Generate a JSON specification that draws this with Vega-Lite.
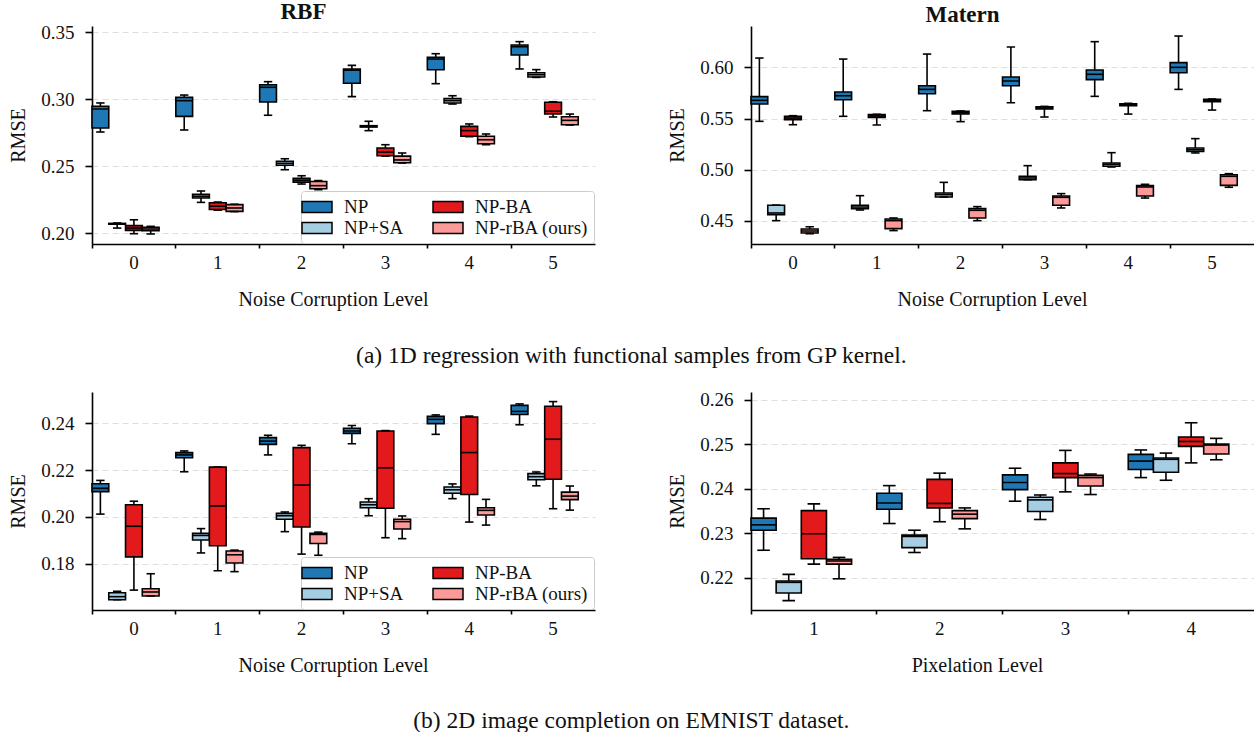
{
  "$schema": "https://vega.github.io/schema/vega-lite/v6.json",
  "padding": {"left": 8, "top": 0, "right": 0, "bottom": 0},
  "datasets": {
    "box": [
      {"p":"RBF","l":0,"m":"NP","lo":0.2755,"q1":0.2785,"md":0.2927,"q3":0.2947,"hi":0.2972},
      {"p":"RBF","l":0,"m":"NP+SA","lo":0.2037,"q1":0.2066,"md":0.2069,"q3":0.2072,"hi":0.2075},
      {"p":"RBF","l":0,"m":"NP-BA","lo":0.1995,"q1":0.2020,"md":0.2037,"q3":0.2055,"hi":0.2099},
      {"p":"RBF","l":0,"m":"NP-rBA (ours)","lo":0.1993,"q1":0.2017,"md":0.2030,"q3":0.2043,"hi":0.2050},
      {"p":"RBF","l":1,"m":"NP","lo":0.2770,"q1":0.2872,"md":0.2989,"q3":0.3014,"hi":0.3031},
      {"p":"RBF","l":1,"m":"NP+SA","lo":0.2229,"q1":0.2262,"md":0.2274,"q3":0.2289,"hi":0.2314},
      {"p":"RBF","l":1,"m":"NP-BA","lo":0.2170,"q1":0.2176,"md":0.2200,"q3":0.2226,"hi":0.2232},
      {"p":"RBF","l":1,"m":"NP-rBA (ours)","lo":0.2160,"q1":0.2162,"md":0.2187,"q3":0.2212,"hi":0.2215},
      {"p":"RBF","l":2,"m":"NP","lo":0.2880,"q1":0.2979,"md":0.3089,"q3":0.3108,"hi":0.3131},
      {"p":"RBF","l":2,"m":"NP+SA","lo":0.2473,"q1":0.2506,"md":0.2521,"q3":0.2536,"hi":0.2555},
      {"p":"RBF","l":2,"m":"NP-BA","lo":0.2366,"q1":0.2379,"md":0.2394,"q3":0.2409,"hi":0.2428},
      {"p":"RBF","l":2,"m":"NP-rBA (ours)","lo":0.2324,"q1":0.2331,"md":0.2354,"q3":0.2385,"hi":0.2392},
      {"p":"RBF","l":3,"m":"NP","lo":0.3019,"q1":0.3119,"md":0.3216,"q3":0.3226,"hi":0.3253},
      {"p":"RBF","l":3,"m":"NP+SA","lo":0.2765,"q1":0.2792,"md":0.2797,"q3":0.2802,"hi":0.2835},
      {"p":"RBF","l":3,"m":"NP-BA","lo":0.2575,"q1":0.2578,"md":0.2605,"q3":0.2635,"hi":0.2660},
      {"p":"RBF","l":3,"m":"NP-rBA (ours)","lo":0.2523,"q1":0.2525,"md":0.2546,"q3":0.2575,"hi":0.2598},
      {"p":"RBF","l":4,"m":"NP","lo":0.3116,"q1":0.3220,"md":0.3300,"q3":0.3313,"hi":0.3340},
      {"p":"RBF","l":4,"m":"NP+SA","lo":0.2964,"q1":0.2972,"md":0.2989,"q3":0.3004,"hi":0.3026},
      {"p":"RBF","l":4,"m":"NP-BA","lo":0.2720,"q1":0.2723,"md":0.2765,"q3":0.2797,"hi":0.2815},
      {"p":"RBF","l":4,"m":"NP-rBA (ours)","lo":0.2660,"q1":0.2667,"md":0.2697,"q3":0.2723,"hi":0.2740},
      {"p":"RBF","l":5,"m":"NP","lo":0.3226,"q1":0.3330,"md":0.3392,"q3":0.3405,"hi":0.3430},
      {"p":"RBF","l":5,"m":"NP+SA","lo":0.3163,"q1":0.3166,"md":0.3183,"q3":0.3198,"hi":0.3221},
      {"p":"RBF","l":5,"m":"NP-BA","lo":0.2867,"q1":0.2889,"md":0.2910,"q3":0.2977,"hi":0.2981},
      {"p":"RBF","l":5,"m":"NP-rBA (ours)","lo":0.2807,"q1":0.2809,"md":0.2842,"q3":0.2869,"hi":0.2889},

      {"p":"Matern","l":0,"m":"NP","lo":0.5473,"q1":0.5642,"md":0.5678,"q3":0.5714,"hi":0.6091},
      {"p":"Matern","l":0,"m":"NP+SA","lo":0.4503,"q1":0.4562,"md":0.4578,"q3":0.4653,"hi":0.4655},
      {"p":"Matern","l":0,"m":"NP-BA","lo":0.5440,"q1":0.5489,"md":0.5505,"q3":0.5522,"hi":0.5528},
      {"p":"Matern","l":0,"m":"NP-rBA (ours)","lo":0.4376,"q1":0.4383,"md":0.4402,"q3":0.4422,"hi":0.4444},
      {"p":"Matern","l":1,"m":"NP","lo":0.5522,"q1":0.5684,"md":0.5723,"q3":0.5759,"hi":0.6081},
      {"p":"Matern","l":1,"m":"NP+SA","lo":0.4607,"q1":0.4620,"md":0.4636,"q3":0.4653,"hi":0.4747},
      {"p":"Matern","l":1,"m":"NP-BA","lo":0.5437,"q1":0.5512,"md":0.5525,"q3":0.5538,"hi":0.5541},
      {"p":"Matern","l":1,"m":"NP-rBA (ours)","lo":0.4406,"q1":0.4425,"md":0.4503,"q3":0.4519,"hi":0.4529},
      {"p":"Matern","l":2,"m":"NP","lo":0.5577,"q1":0.5743,"md":0.5785,"q3":0.5821,"hi":0.6130},
      {"p":"Matern","l":2,"m":"NP+SA","lo":0.4734,"q1":0.4734,"md":0.4757,"q3":0.4773,"hi":0.4877},
      {"p":"Matern","l":2,"m":"NP-BA","lo":0.5470,"q1":0.5544,"md":0.5557,"q3":0.5571,"hi":0.5574},
      {"p":"Matern","l":2,"m":"NP-rBA (ours)","lo":0.4503,"q1":0.4529,"md":0.4604,"q3":0.4620,"hi":0.4640},
      {"p":"Matern","l":3,"m":"NP","lo":0.5655,"q1":0.5821,"md":0.5867,"q3":0.5906,"hi":0.6199},
      {"p":"Matern","l":3,"m":"NP+SA","lo":0.4903,"q1":0.4903,"md":0.4920,"q3":0.4936,"hi":0.5040},
      {"p":"Matern","l":3,"m":"NP-BA","lo":0.5515,"q1":0.5593,"md":0.5603,"q3":0.5616,"hi":0.5619},
      {"p":"Matern","l":3,"m":"NP-rBA (ours)","lo":0.4627,"q1":0.4653,"md":0.4731,"q3":0.4744,"hi":0.4767},
      {"p":"Matern","l":4,"m":"NP","lo":0.5717,"q1":0.5880,"md":0.5932,"q3":0.5974,"hi":0.6251},
      {"p":"Matern","l":4,"m":"NP+SA","lo":0.5027,"q1":0.5034,"md":0.5053,"q3":0.5066,"hi":0.5167},
      {"p":"Matern","l":4,"m":"NP-BA","lo":0.5544,"q1":0.5626,"md":0.5636,"q3":0.5645,"hi":0.5649},
      {"p":"Matern","l":4,"m":"NP-rBA (ours)","lo":0.4724,"q1":0.4744,"md":0.4832,"q3":0.4845,"hi":0.4858},
      {"p":"Matern","l":5,"m":"NP","lo":0.5785,"q1":0.5948,"md":0.6000,"q3":0.6046,"hi":0.6306},
      {"p":"Matern","l":5,"m":"NP+SA","lo":0.5164,"q1":0.5180,"md":0.5196,"q3":0.5212,"hi":0.5304},
      {"p":"Matern","l":5,"m":"NP-BA","lo":0.5583,"q1":0.5665,"md":0.5678,"q3":0.5688,"hi":0.5691},
      {"p":"Matern","l":5,"m":"NP-rBA (ours)","lo":0.4829,"q1":0.4848,"md":0.4936,"q3":0.4952,"hi":0.4962},

      {"p":"EMNIST","l":0,"m":"NP","lo":0.2012,"q1":0.2108,"md":0.2122,"q3":0.2142,"hi":0.2156},
      {"p":"EMNIST","l":0,"m":"NP+SA","lo":0.1646,"q1":0.1646,"md":0.1659,"q3":0.1676,"hi":0.1682},
      {"p":"EMNIST","l":0,"m":"NP-BA","lo":0.1687,"q1":0.1829,"md":0.1960,"q3":0.2052,"hi":0.2067},
      {"p":"EMNIST","l":0,"m":"NP-rBA (ours)","lo":0.1662,"q1":0.1662,"md":0.1679,"q3":0.1693,"hi":0.1757},
      {"p":"EMNIST","l":1,"m":"NP","lo":0.2193,"q1":0.2253,"md":0.2265,"q3":0.2275,"hi":0.2282},
      {"p":"EMNIST","l":1,"m":"NP+SA","lo":0.1846,"q1":0.1901,"md":0.1921,"q3":0.1930,"hi":0.1950},
      {"p":"EMNIST","l":1,"m":"NP-BA","lo":0.1770,"q1":0.1877,"md":0.2047,"q3":0.2213,"hi":0.2213},
      {"p":"EMNIST","l":1,"m":"NP-rBA (ours)","lo":0.1766,"q1":0.1803,"md":0.1838,"q3":0.1854,"hi":0.1858},
      {"p":"EMNIST","l":2,"m":"NP","lo":0.2265,"q1":0.2310,"md":0.2324,"q3":0.2339,"hi":0.2349},
      {"p":"EMNIST","l":2,"m":"NP+SA","lo":0.1937,"q1":0.1990,"md":0.2005,"q3":0.2015,"hi":0.2021},
      {"p":"EMNIST","l":2,"m":"NP-BA","lo":0.1841,"q1":0.1957,"md":0.2136,"q3":0.2296,"hi":0.2306},
      {"p":"EMNIST","l":2,"m":"NP-rBA (ours)","lo":0.1836,"q1":0.1886,"md":0.1925,"q3":0.1930,"hi":0.1935},
      {"p":"EMNIST","l":3,"m":"NP","lo":0.2313,"q1":0.2357,"md":0.2367,"q3":0.2379,"hi":0.2391},
      {"p":"EMNIST","l":3,"m":"NP+SA","lo":0.2005,"q1":0.2039,"md":0.2052,"q3":0.2064,"hi":0.2078},
      {"p":"EMNIST","l":3,"m":"NP-BA","lo":0.1911,"q1":0.2037,"md":0.2210,"q3":0.2367,"hi":0.2369},
      {"p":"EMNIST","l":3,"m":"NP-rBA (ours)","lo":0.1907,"q1":0.1948,"md":0.1980,"q3":0.1990,"hi":0.2004},
      {"p":"EMNIST","l":4,"m":"NP","lo":0.2353,"q1":0.2399,"md":0.2417,"q3":0.2430,"hi":0.2436},
      {"p":"EMNIST","l":4,"m":"NP+SA","lo":0.2078,"q1":0.2101,"md":0.2116,"q3":0.2128,"hi":0.2141},
      {"p":"EMNIST","l":4,"m":"NP-BA","lo":0.1978,"q1":0.2096,"md":0.2275,"q3":0.2427,"hi":0.2431},
      {"p":"EMNIST","l":4,"m":"NP-rBA (ours)","lo":0.1965,"q1":0.2008,"md":0.2028,"q3":0.2039,"hi":0.2075},
      {"p":"EMNIST","l":5,"m":"NP","lo":0.2394,"q1":0.2438,"md":0.2451,"q3":0.2477,"hi":0.2483},
      {"p":"EMNIST","l":5,"m":"NP+SA","lo":0.2133,"q1":0.2159,"md":0.2172,"q3":0.2185,"hi":0.2192},
      {"p":"EMNIST","l":5,"m":"NP-BA","lo":0.2035,"q1":0.2161,"md":0.2332,"q3":0.2473,"hi":0.2493},
      {"p":"EMNIST","l":5,"m":"NP-rBA (ours)","lo":0.2029,"q1":0.2074,"md":0.2089,"q3":0.2106,"hi":0.2132},

      {"p":"Pix","l":1,"m":"NP","lo":0.2262,"q1":0.2307,"md":0.2319,"q3":0.2334,"hi":0.2355},
      {"p":"Pix","l":1,"m":"NP+SA","lo":0.2149,"q1":0.2166,"md":0.2190,"q3":0.2193,"hi":0.2208},
      {"p":"Pix","l":1,"m":"NP-BA","lo":0.2231,"q1":0.2243,"md":0.2299,"q3":0.2351,"hi":0.2366},
      {"p":"Pix","l":1,"m":"NP-rBA (ours)","lo":0.2198,"q1":0.2231,"md":0.2238,"q3":0.2242,"hi":0.2246},
      {"p":"Pix","l":2,"m":"NP","lo":0.2322,"q1":0.2354,"md":0.2368,"q3":0.2390,"hi":0.2407},
      {"p":"Pix","l":2,"m":"NP+SA","lo":0.2257,"q1":0.2268,"md":0.2293,"q3":0.2296,"hi":0.2307},
      {"p":"Pix","l":2,"m":"NP-BA","lo":0.2326,"q1":0.2357,"md":0.2367,"q3":0.2421,"hi":0.2435},
      {"p":"Pix","l":2,"m":"NP-rBA (ours)","lo":0.2310,"q1":0.2333,"md":0.2343,"q3":0.2351,"hi":0.2357},
      {"p":"Pix","l":3,"m":"NP","lo":0.2372,"q1":0.2398,"md":0.2414,"q3":0.2431,"hi":0.2446},
      {"p":"Pix","l":3,"m":"NP+SA","lo":0.2331,"q1":0.2349,"md":0.2375,"q3":0.2381,"hi":0.2386},
      {"p":"Pix","l":3,"m":"NP-BA","lo":0.2393,"q1":0.2425,"md":0.2434,"q3":0.2458,"hi":0.2486},
      {"p":"Pix","l":3,"m":"NP-rBA (ours)","lo":0.2387,"q1":0.2406,"md":0.2425,"q3":0.2430,"hi":0.2433},
      {"p":"Pix","l":4,"m":"NP","lo":0.2425,"q1":0.2443,"md":0.2462,"q3":0.2477,"hi":0.2487},
      {"p":"Pix","l":4,"m":"NP+SA","lo":0.2419,"q1":0.2437,"md":0.2466,"q3":0.2469,"hi":0.2480},
      {"p":"Pix","l":4,"m":"NP-BA","lo":0.2458,"q1":0.2495,"md":0.2506,"q3":0.2516,"hi":0.2548},
      {"p":"Pix","l":4,"m":"NP-rBA (ours)","lo":0.2465,"q1":0.2478,"md":0.2498,"q3":0.2500,"hi":0.2513}
    ]
  },
  "vconcat": [
    {
      "title": {"text": "(a) 1D regression with functional samples from GP kernel.", "orient": "bottom", "anchor": "middle", "frame": "bounds", "fontSize": 23.5, "fontWeight": "normal", "offset": 35},
      "spacing": 72,
      "resolve": {"scale": {"x": "independent", "y": "independent", "xOffset": "independent", "fill": "independent"}, "legend": {"fill": "independent"}},
      "hconcat": [
        {
          "width": 503, "height": 218,
          "title": {"text": "RBF", "dx": -40, "offset": -0.5},
          "data": {"name": "box"},
          "transform": [{"filter": "datum.p == 'RBF'"}],
          "encoding": {
            "x": {"field": "l", "type": "ordinal", "title": "Noise Corruption Level", "scale": {"paddingInner": 0, "paddingOuter": 0}, "axis": {"labelAngle": 0, "bandPosition": 0, "titleX": 241, "titleAlign": "center"}},
            "xOffset": {"field": "m", "type": "nominal", "scale": {"domain": ["NP", "NP+SA", "NP-BA", "NP-rBA (ours)", "pad"], "paddingInner": 0, "paddingOuter": 0}}
          },
          "layer": [
            {"mark": {"type": "rule", "color": "black", "strokeWidth": 1.6}, "encoding": {"y": {"field": "lo", "type": "quantitative", "title": "RMSE", "scale": {"domain": [0.1918, 0.3547], "zero": false, "nice": false}, "axis": {"values": [0.2, 0.25, 0.3, 0.35], "format": ".2f"}}, "y2": {"field": "hi"}}},
            {"mark": {"type": "bar", "stroke": "black", "strokeWidth": 1.6, "opacity": 1}, "encoding": {"y": {"field": "q1", "type": "quantitative", "title": "RMSE"}, "y2": {"field": "q3"}, "fill": {"field": "m", "type": "nominal", "scale": {"domain": ["NP", "NP+SA", "NP-BA", "NP-rBA (ours)"], "range": ["#1f78b4", "#a6cee3", "#e31a1c", "#fb9a99"]}, "legend": {"title": null, "orient": "bottom-right", "offset": 1}}}},
            {"mark": {"type": "tick", "color": "black", "size": 16.8, "thickness": 1.6, "opacity": 1}, "encoding": {"y": {"field": "md", "type": "quantitative", "title": "RMSE"}}},
            {"mark": {"type": "tick", "color": "black", "size": 8.4, "thickness": 1.6, "opacity": 1}, "encoding": {"y": {"field": "lo", "type": "quantitative", "title": "RMSE"}}},
            {"mark": {"type": "tick", "color": "black", "size": 8.4, "thickness": 1.6, "opacity": 1}, "encoding": {"y": {"field": "hi", "type": "quantitative", "title": "RMSE"}}}
          ]
        },
        {
          "width": 503, "height": 218,
          "title": {"text": "Matern", "dx": -40, "offset": -0.5},
          "data": {"name": "box"},
          "transform": [{"filter": "datum.p == 'Matern'"}],
          "encoding": {
            "x": {"field": "l", "type": "ordinal", "title": "Noise Corruption Level", "scale": {"paddingInner": 0, "paddingOuter": 0}, "axis": {"labelAngle": 0, "bandPosition": 0, "titleX": 241, "titleAlign": "center"}},
            "xOffset": {"field": "m", "type": "nominal", "scale": {"domain": ["NP", "NP+SA", "NP-BA", "NP-rBA (ours)", "pad"], "paddingInner": 0, "paddingOuter": 0}}
          },
          "layer": [
            {"mark": {"type": "rule", "color": "black", "strokeWidth": 1.6}, "encoding": {"y": {"field": "lo", "type": "quantitative", "title": "RMSE", "scale": {"domain": [0.4275, 0.6404], "zero": false, "nice": false}, "axis": {"values": [0.45, 0.5, 0.55, 0.6], "format": ".2f"}}, "y2": {"field": "hi"}}},
            {"mark": {"type": "bar", "stroke": "black", "strokeWidth": 1.6, "opacity": 1}, "encoding": {"y": {"field": "q1", "type": "quantitative", "title": "RMSE"}, "y2": {"field": "q3"}, "fill": {"field": "m", "type": "nominal", "scale": {"domain": ["NP", "NP+SA", "NP-BA", "NP-rBA (ours)"], "range": ["#1f78b4", "#a6cee3", "#e31a1c", "#fb9a99"]}, "legend": null}}},
            {"mark": {"type": "tick", "color": "black", "size": 16.8, "thickness": 1.6, "opacity": 1}, "encoding": {"y": {"field": "md", "type": "quantitative", "title": "RMSE"}}},
            {"mark": {"type": "tick", "color": "black", "size": 8.4, "thickness": 1.6, "opacity": 1}, "encoding": {"y": {"field": "lo", "type": "quantitative", "title": "RMSE"}}},
            {"mark": {"type": "tick", "color": "black", "size": 8.4, "thickness": 1.6, "opacity": 1}, "encoding": {"y": {"field": "hi", "type": "quantitative", "title": "RMSE"}}}
          ]
        }
      ]
    },
    {
      "title": {"text": "(b) 2D image completion on EMNIST dataset.", "orient": "bottom", "anchor": "middle", "frame": "bounds", "fontSize": 23.5, "fontWeight": "normal", "offset": 34},
      "spacing": 72,
      "resolve": {"scale": {"x": "independent", "y": "independent", "xOffset": "independent", "fill": "independent"}, "legend": {"fill": "independent"}},
      "hconcat": [
        {
          "width": 503, "height": 218,
          "data": {"name": "box"},
          "transform": [{"filter": "datum.p == 'EMNIST'"}],
          "encoding": {
            "x": {"field": "l", "type": "ordinal", "title": "Noise Corruption Level", "scale": {"paddingInner": 0, "paddingOuter": 0}, "axis": {"labelAngle": 0, "bandPosition": 0, "titleX": 241, "titleAlign": "center"}},
            "xOffset": {"field": "m", "type": "nominal", "scale": {"domain": ["NP", "NP+SA", "NP-BA", "NP-rBA (ours)", "pad"], "paddingInner": 0, "paddingOuter": 0}}
          },
          "layer": [
            {"mark": {"type": "rule", "color": "black", "strokeWidth": 1.6}, "encoding": {"y": {"field": "lo", "type": "quantitative", "title": "RMSE", "scale": {"domain": [0.1602, 0.2534], "zero": false, "nice": false}, "axis": {"values": [0.18, 0.2, 0.22, 0.24], "format": ".2f"}}, "y2": {"field": "hi"}}},
            {"mark": {"type": "bar", "stroke": "black", "strokeWidth": 1.6, "opacity": 1}, "encoding": {"y": {"field": "q1", "type": "quantitative", "title": "RMSE"}, "y2": {"field": "q3"}, "fill": {"field": "m", "type": "nominal", "scale": {"domain": ["NP", "NP+SA", "NP-BA", "NP-rBA (ours)"], "range": ["#1f78b4", "#a6cee3", "#e31a1c", "#fb9a99"]}, "legend": {"title": null, "orient": "bottom-right", "offset": 1}}}},
            {"mark": {"type": "tick", "color": "black", "size": 16.8, "thickness": 1.6, "opacity": 1}, "encoding": {"y": {"field": "md", "type": "quantitative", "title": "RMSE"}}},
            {"mark": {"type": "tick", "color": "black", "size": 8.4, "thickness": 1.6, "opacity": 1}, "encoding": {"y": {"field": "lo", "type": "quantitative", "title": "RMSE"}}},
            {"mark": {"type": "tick", "color": "black", "size": 8.4, "thickness": 1.6, "opacity": 1}, "encoding": {"y": {"field": "hi", "type": "quantitative", "title": "RMSE"}}}
          ]
        },
        {
          "width": 503, "height": 218,
          "data": {"name": "box"},
          "transform": [{"filter": "datum.p == 'Pix'"}],
          "encoding": {
            "x": {"field": "l", "type": "ordinal", "title": "Pixelation Level", "scale": {"paddingInner": 0, "paddingOuter": 0}, "axis": {"labelAngle": 0, "bandPosition": 0, "titleX": 226, "titleAlign": "center"}},
            "xOffset": {"field": "m", "type": "nominal", "scale": {"domain": ["NP", "NP+SA", "NP-BA", "NP-rBA (ours)", "pad"], "paddingInner": 0, "paddingOuter": 0}}
          },
          "layer": [
            {"mark": {"type": "rule", "color": "black", "strokeWidth": 1.6}, "encoding": {"y": {"field": "lo", "type": "quantitative", "title": "RMSE", "scale": {"domain": [0.2128, 0.2617], "zero": false, "nice": false}, "axis": {"values": [0.22, 0.23, 0.24, 0.25, 0.26], "format": ".2f"}}, "y2": {"field": "hi"}}},
            {"mark": {"type": "bar", "stroke": "black", "strokeWidth": 1.6, "opacity": 1}, "encoding": {"y": {"field": "q1", "type": "quantitative", "title": "RMSE"}, "y2": {"field": "q3"}, "fill": {"field": "m", "type": "nominal", "scale": {"domain": ["NP", "NP+SA", "NP-BA", "NP-rBA (ours)"], "range": ["#1f78b4", "#a6cee3", "#e31a1c", "#fb9a99"]}, "legend": null}}},
            {"mark": {"type": "tick", "color": "black", "size": 25.2, "thickness": 1.6, "opacity": 1}, "encoding": {"y": {"field": "md", "type": "quantitative", "title": "RMSE"}}},
            {"mark": {"type": "tick", "color": "black", "size": 12.6, "thickness": 1.6, "opacity": 1}, "encoding": {"y": {"field": "lo", "type": "quantitative", "title": "RMSE"}}},
            {"mark": {"type": "tick", "color": "black", "size": 12.6, "thickness": 1.6, "opacity": 1}, "encoding": {"y": {"field": "hi", "type": "quantitative", "title": "RMSE"}}}
          ]
        }
      ]
    }
  ],
  "spacing": 22,
  "resolve": {"scale": {"x": "independent", "y": "independent", "xOffset": "independent", "fill": "independent"}, "legend": {"fill": "independent"}},
  "config": {
    "font": "Liberation Serif",
    "view": {"stroke": null},
    "axis": {"labelFont": "Liberation Serif", "titleFont": "Liberation Serif", "labelFontSize": 19, "titleFontSize": 20, "titleFontWeight": "normal", "labelColor": "#111111", "titleColor": "#111111", "domainColor": "black", "domainWidth": 1.6, "tickColor": "black", "tickWidth": 1.6},
    "axisY": {"grid": true, "gridColor": "#dedede", "gridDash": [6, 4], "gridWidth": 1.2, "tickSize": 7, "labelPadding": 11, "titlePadding": 12},
    "axisX": {"grid": false, "tickSize": 4, "labelPadding": 5, "titlePadding": 17},
    "title": {"font": "Liberation Serif", "fontSize": 23, "fontWeight": "bold", "color": "#111111"},
    "legend": {"labelFont": "Liberation Serif", "labelFontSize": 19, "labelColor": "#111111", "symbolType": "M-1.5,-0.55H1.5V0.55H-1.5Z", "symbolSize": 400, "symbolStrokeColor": "black", "symbolStrokeWidth": 1.5, "symbolOpacity": 1, "strokeColor": "#cccccc", "fillColor": "white", "cornerRadius": 3, "padding": 5, "columns": 2, "columnPadding": 26, "rowPadding": -3, "labelOffset": 16}
  }
}
